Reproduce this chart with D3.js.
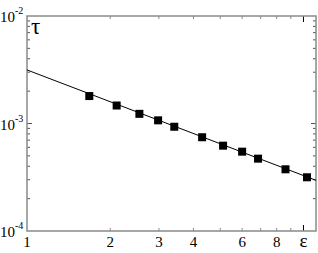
<!DOCTYPE html>
<html>
<head>
<meta charset="utf-8">
<script src="https://cdn.jsdelivr.net/npm/d3@7"></script>
<style>
body { margin: 0; background: #fff; }
text { font-family: "Liberation Serif", "DejaVu Serif", serif; }
</style>
</head>
<body>
<script>
// Data
var epsVals = [1.68, 2.11, 2.55, 2.98, 3.41, 4.30, 5.12, 6.00, 6.85, 8.61, 10.3];
var tauVals = [1.80e-3, 1.47e-3, 1.23e-3, 1.07e-3, 9.33e-4, 7.45e-4, 6.22e-4, 5.47e-4, 4.71e-4, 3.75e-4, 3.16e-4];
var fitEps = [1, 11.1];
var fitTau = [3.15e-3, 2.96e-4];
var xTickVals = [1, 2, 3, 4, 6, 8, 10];
var xTickLabels = ["1", "2", "3", "4", "6", "8", "\u03b5"];
var yTickVals = [1e-4, 1e-3, 1e-2];
var yTickExp = ["-4", "-3", "-2"];

// Settings
var w = 318, h = 253;
var pLeft = 27, pRight = 316, pTop = 16, pBottom = 231;

var svg = d3.select("body").append("svg")
	.attr("width", w)
	.attr("height", h);

var xScale = d3.scaleLog().domain([1, 11.1]).range([pLeft, pRight]);
var yScale = d3.scaleLog().domain([1e-4, 1e-2]).range([pBottom, pTop]);

// minor ticks
var xMinor = [2, 3, 4, 5, 6, 7, 8, 9];
var yMinor = [];
[1e-4, 1e-3].forEach(function(d) {
	for (var k = 2; k <= 9; k++) yMinor.push(d * k);
});

var axisColor = "#8a8a8a";

var g = svg.append("g");

// x ticks bottom and top
xMinor.concat([10]).forEach(function(v) {
	var len = (v === 10) ? 6 : 3;
	g.append("line").attr("x1", xScale(v)).attr("x2", xScale(v))
		.attr("y1", pBottom).attr("y2", pBottom - len)
		.attr("stroke", v === 10 ? "#000" : axisColor).attr("stroke-width", 1);
	g.append("line").attr("x1", xScale(v)).attr("x2", xScale(v))
		.attr("y1", pTop).attr("y2", pTop + len)
		.attr("stroke", v === 10 ? "#000" : axisColor).attr("stroke-width", 1);
});

// y ticks left and right
yMinor.concat([1e-3]).forEach(function(v) {
	var len = (v === 1e-3) ? 5 : 3;
	g.append("line").attr("x1", pLeft).attr("x2", pLeft + len)
		.attr("y1", yScale(v)).attr("y2", yScale(v))
		.attr("stroke", "#555").attr("stroke-width", 1);
	g.append("line").attr("x1", pRight).attr("x2", pRight - len)
		.attr("y1", yScale(v)).attr("y2", yScale(v))
		.attr("stroke", "#555").attr("stroke-width", 1);
});

// frame
g.append("rect")
	.attr("x", pLeft).attr("y", pTop)
	.attr("width", pRight - pLeft).attr("height", pBottom - pTop)
	.attr("fill", "none")
	.attr("stroke", axisColor)
	.attr("stroke-width", 1.5);

// fitted line
var line = d3.line()
	.x(function(d) { return xScale(d[0]); })
	.y(function(d) { return yScale(d[1]); });

svg.append("path")
	.datum(fitEps.map(function(e, i) { return [e, fitTau[i]]; }))
	.attr("d", line)
	.attr("fill", "none")
	.attr("stroke", "#000")
	.attr("stroke-width", 1);

// markers
var ms = 8;
svg.selectAll("rect.pt")
	.data(epsVals.map(function(e, i) { return [e, tauVals[i]]; }))
	.enter()
	.append("rect")
	.attr("class", "pt")
	.attr("x", function(d) { return xScale(d[0]) - ms / 2; })
	.attr("y", function(d) { return yScale(d[1]) - ms / 2; })
	.attr("width", ms)
	.attr("height", ms)
	.attr("fill", "#000");

// x tick labels
svg.selectAll("text.xl")
	.data(xTickVals)
	.enter()
	.append("text")
	.attr("class", "xl")
	.attr("x", function(d) { return xScale(d); })
	.attr("y", 247)
	.attr("text-anchor", "middle")
	.attr("font-size", function(d, i) { return i === xTickVals.length - 1 ? 19 : 15; })
	.text(function(d, i) { return xTickLabels[i]; });

// y tick labels
var yl = svg.selectAll("text.yl")
	.data(yTickVals)
	.enter()
	.append("text")
	.attr("class", "yl")
	.attr("x", 0)
	.attr("y", function(d) { return yScale(d) + 6; })
	.attr("font-size", 15);
yl.append("tspan").text("10");
yl.append("tspan")
	.attr("dy", -8)
	.attr("font-size", 10)
	.text(function(d, i) { return yTickExp[i]; });

// tau label
svg.append("text")
	.attr("x", 31)
	.attr("y", 34)
	.attr("font-size", 23)
	.text("\u03c4");
</script>
</body>
</html>
